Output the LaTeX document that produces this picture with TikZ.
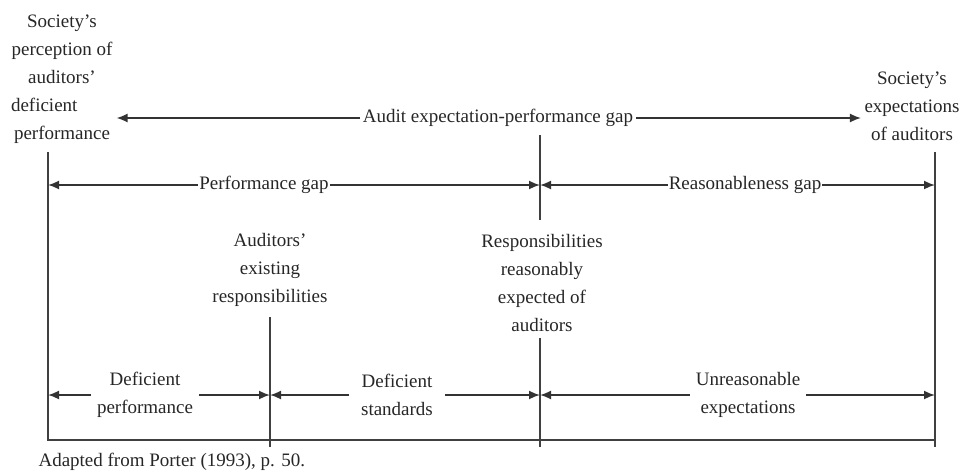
\documentclass[tikz,border=0pt]{standalone}
\usepackage{fontspec}
\setmainfont{Liberation Serif}
\usepackage{tikz}
\usetikzlibrary{positioning}
\usetikzlibrary{calc}
\usetikzlibrary{arrows.meta}

\tikzset{
	txt/.style={align=center,text=black!85,font=\fontsize{19}{28}\selectfont},
	gaplbl/.style={txt,inner xsep=1pt,inner ysep=0pt},
	gapline/.style={draw=black!80,line width=1.7pt,-{Latex[length=11pt,width=9pt]}},
	bar/.style={draw=black!75,line width=1.7pt}
}

\begin{document}
\begin{tikzpicture}[x=1pt,y=-1pt]
\useasboundingbox (0,0) rectangle (961,474);

%opisy
\node[txt] (sperc) at (62,79) {Society's\\perception of\\auditors'\\\makebox[102pt][l]{deficient}\\performance};
\node[txt] (sexp) at (912,106) {Society's\\expectations\\of auditors};
\node[txt] (exist) at (270,270) {Auditors'\\existing\\responsibilities};
\node[txt] (reasn) at (542,283) {Responsibilities\\reasonably\\expected of\\auditors};
\node[txt,anchor=west] (src) at (35,462) {Adapted from Porter (1993), p. 50.};

%pionowe linie
\coordinate (tl) at (48,152);
\coordinate (bl) at (48,440);
\coordinate (tr) at (935,152);
\coordinate (br) at (935,447);
\coordinate (m1t) at (270,317);
\coordinate (m1b) at (270,447);
\coordinate (m2t) at (540,135);
\coordinate (m2m) at (540,220);
\coordinate (m2u) at (540,338);
\coordinate (m2b) at (540,447);
\draw[bar] (tl) -- (bl) -- (br |- bl);
\draw[bar] (tr) -- (br);
\draw[bar] (m1t) -- (m1b);
\draw[bar] (m2t) -- (m2m);
\draw[bar] (m2u) -- (m2b);

%luka glowna
\node[gaplbl,inner xsep=3pt] (aepg) at (498,118) {Audit expectation-performance gap};
\draw[gapline] (aepg) -- (sperc.east |- aepg);
\draw[gapline] (aepg) -- (sexp.west |- aepg);

%luki posrednie
\node[gaplbl] (perfgap) at (264,185) {Performance gap};
\draw[gapline] (perfgap) -- (tl |- perfgap);
\draw[gapline] (perfgap) -- (m2t |- perfgap);
\node[gaplbl] (reasgap) at (745,185) {Reasonableness gap};
\draw[gapline] (reasgap) -- (m2t |- reasgap);
\draw[gapline] (reasgap) -- (tr |- reasgap);

%luki dolne
\node[txt,inner xsep=6pt] (defperf) at (145,395) {Deficient\\performance};
\draw[gapline] (defperf) -- (bl |- defperf);
\draw[gapline] (defperf) -- (m1t |- defperf);
\node[txt,inner xsep=12pt] (defstd) at (397,395) {Deficient\\standards};
\draw[gapline] (defstd) -- (m1t |- defstd);
\draw[gapline] (defstd) -- (m2u |- defstd);
\node[txt,inner xsep=6pt] (unreas) at (748,395) {Unreasonable\\expectations};
\draw[gapline] (unreas) -- (m2u |- unreas);
\draw[gapline] (unreas) -- (tr |- unreas);

%end
\end{tikzpicture}
\end{document}
